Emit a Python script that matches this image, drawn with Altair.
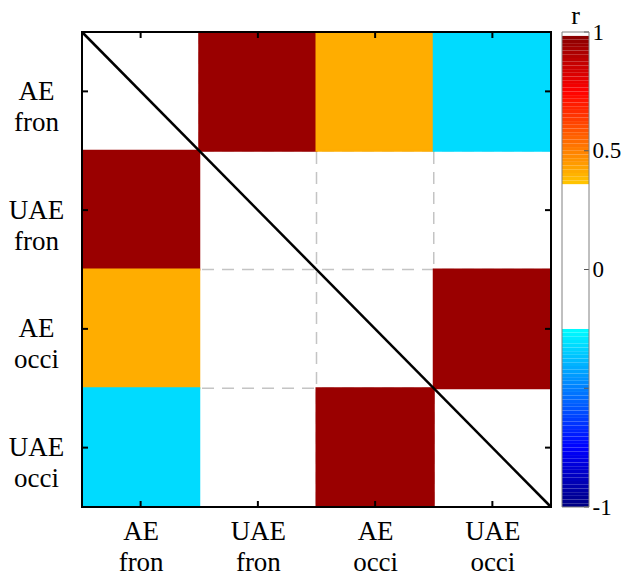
import json
import altair as alt
import numpy as np
import pandas as pd

# ---------------- data ----------------
labels = ["AE fron", "UAE fron", "AE occi", "UAE occi"]
# correlation matrix (row, col); diagonal left empty
r_values = [
    [None, 0.95, 0.41, -0.32],
    [0.95, None, 0.0, 0.0],
    [0.41, 0.0, None, 0.95],
    [-0.32, 0.0, 0.95, None],
]
cbar_tick_values = [-1, -0.5, 0, 0.5, 1]
cbar_label_values = [-1, 0, 0.5, 1]
cmap_domain = [-1, -0.75, -0.25, -0.2499, 0.3559, 0.356, 0.75, 0.985, 0.9851, 1]
cmap_range = ["#000080", "#0000ff", "#00ffff", "#ffffff", "#ffffff",
              "#ffc900", "#ff0000", "#880000", "#ffffff", "#ffffff"]
white_low, white_high = -0.2499, 0.3559
cbar_levels = 128

# ---------------- layout / style ----------------
n = len(labels)
W, H = 469, 475
CW = 27
FONT = "Times New Roman, Liberation Serif, DejaVu Serif, serif"

cells = pd.DataFrame([
    {"row": i, "col": j, "row1": i + 1, "col1": j + 1, "r": r_values[i][j]}
    for i in range(n) for j in range(n)
])
grid_df = pd.DataFrame({"b": list(range(1, n)), "lo": 0, "hi": n})
frame_df = pd.DataFrame({"a": [0], "b": [n]})
centers_df = pd.DataFrame({"c": [i + 0.5 for i in range(n)]})

color_scale = alt.Scale(type="linear", domain=cmap_domain, range=cmap_range,
                        interpolate="rgb")
xs = alt.Scale(domain=[0, n], nice=False, zero=False)
ys = alt.Scale(domain=[0, n], nice=False, zero=False, reverse=True)

lab_js = json.dumps(labels)
x_axis = alt.Axis(values=[i + 0.5 for i in range(n)],
                  labelExpr=f"split({lab_js}[floor(datum.value)], ' ')",
                  title=None, domain=False, ticks=False, tickSize=0, grid=False,
                  labelFont=FONT, labelFontSize=27, labelColor="black",
                  labelPadding=11, labelLineHeight=31, labelBaseline="top",
                  labelAlign="center", labelFlush=False, labelOverlap=False)
y_axis = alt.Axis(values=[i + 0.5 for i in range(n)],
                  labelExpr=f"split({lab_js}[floor(datum.value)], ' ')",
                  title=None, domain=False, ticks=False, tickSize=0, grid=False,
                  labelFont=FONT, labelFontSize=27, labelColor="black",
                  labelPadding=46, labelLineHeight=31, labelBaseline="middle",
                  labelAlign="center", labelFlush=False, labelOverlap=False)


def X(f):
    return alt.X(f, type="quantitative", scale=xs, axis=x_axis)


def Y(f):
    return alt.Y(f, type="quantitative", scale=ys, axis=y_axis)


grid_v = alt.Chart(grid_df).mark_rule(color="#c4c4c4", strokeWidth=1.5,
                                      strokeDash=[12, 8]).encode(
    x=X("b"), y=Y("lo"), y2="hi")
grid_h = alt.Chart(grid_df).mark_rule(color="#c4c4c4", strokeWidth=1.5,
                                      strokeDash=[12, 8]).encode(
    y=Y("b"), x=X("lo"), x2="hi")

cell_layer = alt.Chart(cells).transform_filter(
    f"isValid(datum.r) && (datum.r < {white_low} || datum.r > {white_high})"
).mark_rect(strokeWidth=2).encode(
    x=X("col"), x2="col1", y=Y("row"), y2="row1",
    color=alt.Color("r:Q", scale=color_scale, legend=None),
    stroke=alt.Stroke("r:Q", scale=color_scale, legend=None),
)

diag = alt.Chart(frame_df).mark_rule(color="black", strokeWidth=2.5).encode(
    x=X("a"), y=Y("a"), x2="b", y2="b")
frame = alt.Chart(frame_df).mark_rect(fillOpacity=0, stroke="black",
                                      strokeWidth=2).encode(
    x=X("a"), x2="b", y=Y("a"), y2="b")

TL = 6
tick_top = alt.Chart(centers_df).mark_rule(color="black", strokeWidth=2).encode(
    x=X("c"), y=alt.value(0), y2=alt.value(TL))
tick_bot = alt.Chart(centers_df).mark_rule(color="black", strokeWidth=2).encode(
    x=X("c"), y=alt.value(H - TL), y2=alt.value(H))
tick_left = alt.Chart(centers_df).mark_rule(color="black", strokeWidth=2).encode(
    y=Y("c"), x=alt.value(0), x2=alt.value(TL))
tick_right = alt.Chart(centers_df).mark_rule(color="black", strokeWidth=2).encode(
    y=Y("c"), x=alt.value(W - TL), x2=alt.value(W))

main = alt.layer(grid_v, grid_h, cell_layer, diag, frame,
                 tick_top, tick_bot, tick_left, tick_right).properties(
    width=W, height=H)

# ---------------- colorbar ----------------
edges = np.linspace(-1, 1, cbar_levels + 1)
cbar_df = pd.DataFrame({"lo": edges[:-1], "hi": edges[1:],
                        "r": (edges[:-1] + edges[1:]) / 2})
cys = alt.Scale(domain=[-1, 1], nice=False, zero=False)
c_axis = alt.Axis(values=cbar_label_values, labelExpr="'' + datum.value",
                  orient="right", title=None, domain=False, ticks=False,
                  tickSize=0, grid=False, labelFont=FONT, labelFontSize=23,
                  labelColor="black", labelPadding=3, labelBaseline="middle",
                  labelAlign="left", labelFlush=False, labelOverlap=False)

cbar_rect = alt.Chart(cbar_df).mark_rect().encode(
    x=alt.value(0), x2=alt.value(CW),
    y=alt.Y("lo:Q", scale=cys, axis=c_axis), y2="hi",
    color=alt.Color("r:Q", scale=color_scale, legend=None))
cbar_ticks = alt.Chart(pd.DataFrame({"v": cbar_tick_values})).mark_rule(
    color="#555555", strokeWidth=1).encode(
    y=alt.Y("v:Q", scale=cys, axis=c_axis), x=alt.value(CW - 5), x2=alt.value(CW))
cbar_frame = alt.Chart(pd.DataFrame({"lo": [-1], "hi": [1]})).mark_rect(
    fillOpacity=0, stroke="#808080", strokeWidth=1).encode(
    x=alt.value(0), x2=alt.value(CW),
    y=alt.Y("lo:Q", scale=cys, axis=c_axis), y2="hi")
cbar_title = alt.Chart(pd.DataFrame({"t": ["r"]})).mark_text(
    font=FONT, fontSize=26, color="black", align="center",
    baseline="alphabetic").encode(
    text="t:N", x=alt.value(CW / 2), y=alt.value(-8))

cbar = alt.layer(cbar_rect, cbar_ticks, cbar_frame, cbar_title).properties(
    width=CW, height=H)

chart = alt.hconcat(main, cbar, spacing=8).properties(
    padding={"left": 0, "top": -5, "right": 0, "bottom": 0}
).configure_view(stroke=None)

chart.save("out.html", embed_options={"renderer": "svg", "actions": False})
